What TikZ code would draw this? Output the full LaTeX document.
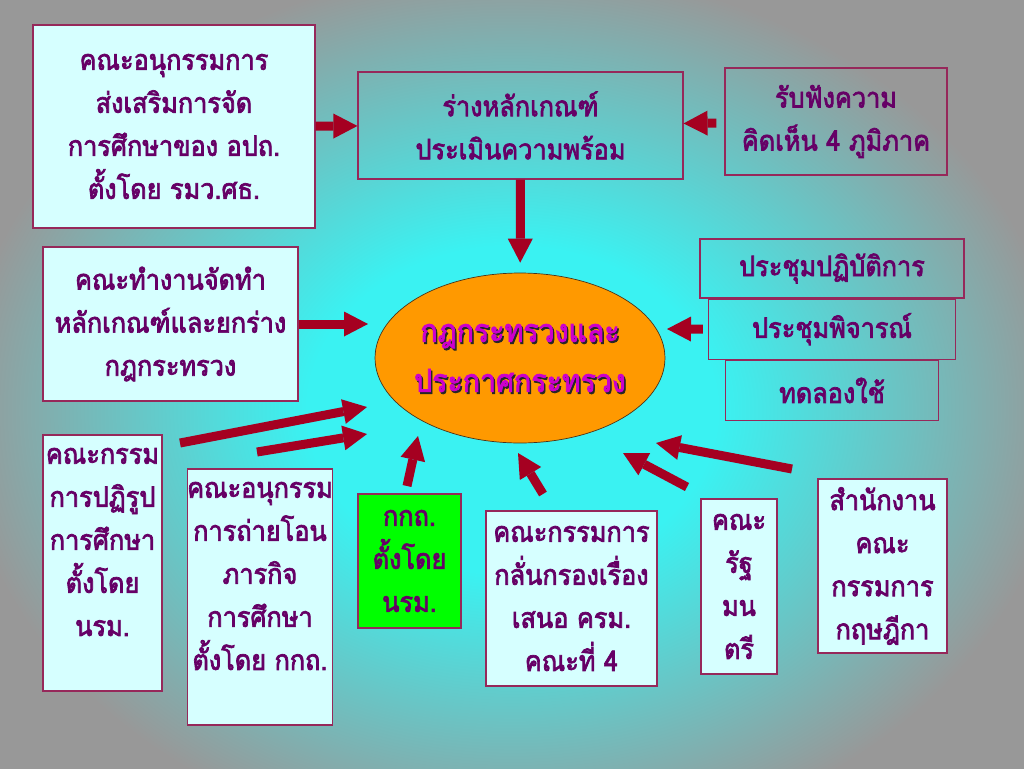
\documentclass[tikz,border=0pt]{standalone}
\usepackage{fontspec}
\newfontfamily\thaifont[Script=Thai, FakeBold=2.5, FakeStretch=0.9]{Loma}
\usepackage{tikz}
\usetikzlibrary{shapes.geometric, arrows.meta, positioning}

\definecolor{bgcyan}{RGB}{58,242,242}
\definecolor{bggray}{RGB}{152,152,152}
\definecolor{boxfill}{RGB}{214,255,255}
\definecolor{boxline}{RGB}{150,40,90}
\definecolor{ink}{RGB}{102,0,102}
\definecolor{arrowred}{RGB}{165,0,33}
\definecolor{lawfill}{RGB}{255,153,0}
\definecolor{lawtext}{RGB}{204,0,204}
\definecolor{kktfill}{RGB}{0,255,0}

\pgfdeclareradialshading{bgshade}{\pgfpoint{0bp}{0bp}}{color(0bp)=(bgcyan); color(10bp)=(bgcyan); color(27bp)=(bggray); color(50bp)=(bggray)}

\newcommand{\lowpad}{\rule[-24pt]{0pt}{24pt}}

\begin{document}
\begin{tikzpicture}[
        x=0.02cm, y=-0.02cm,
        node distance = 0cm,
        panel/.style = {rectangle, draw=boxline, line width=0.7pt, text=ink, align=center, inner sep=0pt,
            font=\thaifont\fontsize{16}{24.5}\selectfont},
        card/.style = {panel, fill=boxfill},
        law/.style = {ellipse, draw=black!60!brown, fill=lawfill, inner sep=0pt},
        lawtitle/.style = {align=center, font=\thaifont\fontsize{18}{28.5}\selectfont},
        flow/.style = {draw=arrowred, line width=0.18cm, -{Triangle[length=0.48cm, width=0.5cm, line width=0pt]}}
    ]

    \useasboundingbox (0,0) rectangle (1024,768);
    \shade[shading=bgshade] (0,0) rectangle (1024,820);

    \node[card, minimum width=5.64cm, minimum height=4.06cm] (promo) at (174,126.5)
        {คณะอนุกรรมการ\\ส่งเสริมการจัด\\การศึกษาของ อปถ.\\ตั้งโดย รมว.ศธ.};
    \node[panel, minimum width=6.5cm, minimum height=2.14cm] (draft) at (520.5,125.5)
        {ร่างหลักเกณฑ์\\ประเมินความพร้อม};
    \node[panel, minimum width=4.44cm, minimum height=2.14cm] (hearing) at (836,121.5)
        {รับฟังความ\\คิดเห็น 4 ภูมิภาค};
    \node[card, minimum width=5.1cm, minimum height=3.08cm] (work) at (170.5,324)
        {คณะทำงานจัดทำ\\หลักเกณฑ์และยกร่าง\\กฎกระทรวง};

    \node[law, minimum width=5.8cm, minimum height=3.4cm] (law) at (520,358) {};
    \node[lawtitle, text=black!85] at (521.5,360) {กฎกระทรวงและ\\ประกาศกระทรวง};
    \node[lawtitle, text=lawtext] (lawtext) at (520,358) {กฎกระทรวงและ\\ประกาศกระทรวง};

    \node[panel, minimum width=5.28cm, minimum height=1.18cm] (wkshop) at (832,268.5) {ประชุมปฏิบัติการ};
    \node[panel, minimum width=4.94cm, minimum height=1.2cm, below = of wkshop] (review) {ประชุมพิจารณ์};
    \node[panel, minimum width=4.26cm, minimum height=1.2cm, below = of review] (trial) {ทดลองใช้};

    \node[card, minimum width=2.38cm, minimum height=5.12cm] (reform) at (102.5,563)
        {คณะกรรม\\การปฏิรูป\\การศึกษา\\ตั้งโดย\\นรม.\lowpad};
    \node[card, minimum width=2.88cm, minimum height=5.12cm] (transfer) at (260,597)
        {คณะอนุกรรม\\การถ่ายโอน\\ภารกิจ\\การศึกษา\\ตั้งโดย กกถ.\lowpad};
    \node[panel, fill=kktfill, minimum width=2.06cm, minimum height=2.68cm] (kkt) at (409.5,561)
        {กกถ.\\ตั้งโดย\\นรม.};
    \node[card, minimum width=3.42cm, minimum height=3.5cm] (screen) at (571.5,598.5)
        {คณะกรรมการ\\กลั่นกรองเรื่อง\\เสนอ ครม.\\คณะที่ 4};
    \node[card, minimum width=1.52cm, minimum height=3.5cm] (cabinet) at (739,586.5)
        {คณะ\\รัฐ\\มน\\ตรี};
    \node[card, minimum width=2.58cm, minimum height=3.48cm] (council) at (882.5,566)
        {สำนักงาน\\คณะ\\กรรมการ\\กฤษฎีกา};

    \coordinate (fromreform)   at (180,443);
    \coordinate (toreform)     at (367,407);
    \coordinate (fromtransfer) at (257,452);
    \coordinate (totransfer)   at (367,434);
    \coordinate (fromkkt)      at (407,486);
    \coordinate (tokkt)        at (418,436);
    \coordinate (fromscreen)   at (543,494);
    \coordinate (toscreen)     at (518,453);
    \coordinate (fromcabinet)  at (687,487);
    \coordinate (tocabinet)    at (623,453);
    \coordinate (fromcouncil)  at (792,469);
    \coordinate (tocouncil)    at (656,443);
    \coordinate (towork)       at (368,324);
    \coordinate (toreview)     at (667,329);

    \draw[flow] (promo) -- (draft);
    \draw[flow, shorten <=0.16cm] (hearing) -- (draft);
    \draw[flow, shorten >=0.2cm] (draft) -- (law);
    \draw[flow] (work) -- (towork);
    \draw[flow, shorten <=0.1cm] (review) -- (toreview);
    \draw[flow] (fromreform) -- (toreform);
    \draw[flow] (fromtransfer) -- (totransfer);
    \draw[flow] (fromkkt) -- (tokkt);
    \draw[flow] (fromscreen) -- (toscreen);
    \draw[flow] (fromcabinet) -- (tocabinet);
    \draw[flow] (fromcouncil) -- (tocouncil);

\end{tikzpicture}
\end{document}
